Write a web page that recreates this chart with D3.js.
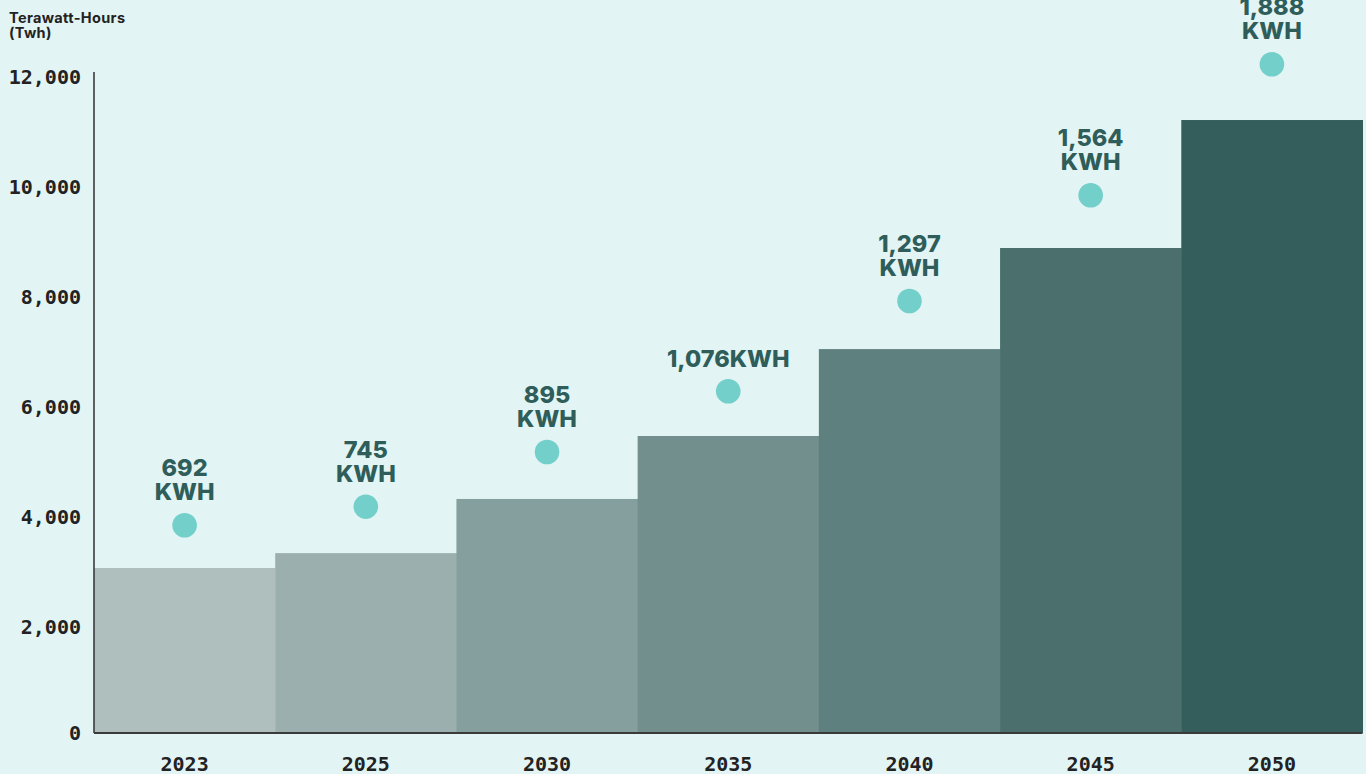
<!DOCTYPE html>
<html>
<head>
<meta charset="utf-8">
<script src="https://cdn.jsdelivr.net/npm/d3@7"></script>
<style>
  html, body { margin: 0; padding: 0; background: #e2f4f4; }
  svg { display: block; }
</style>
</head>
<body>
<svg id="chart" width="1366" height="774"></svg>
<script>
// ---- data ----
const years = ["2023", "2025", "2030", "2035", "2040", "2045", "2050"];
const twh = [3000, 3270, 4255, 5400, 6980, 8818, 11145];
const dotValues = [3776, 4115, 5109, 6213, 7855, 9776, 12158];
const perCapita = ["692", "745", "895", "1,076", "1,297", "1,564", "1,888"];
const singleLine = [false, false, false, true, false, false, false];
const yTicks = [0, 2000, 4000, 6000, 8000, 10000, 12000];
const barColors = ["#afbfbe", "#9aafae", "#849f9e", "#728f8d", "#5e807e", "#4a6f6d", "#345e5c"];
const yTitle = ["Terawatt-Hours", "(Twh)"];

(function () {
// ---- layout ----
const svg = d3.select("#chart");
const mLeft = 94, mRight = 1362.5, mBottom = 733, mTop = 73;

const x = d3.scaleBand().domain(years).range([mLeft, mRight]).padding(0);
const y = d3.scaleLinear().domain([0, 12000]).range([mBottom, mTop]);

svg.append("rect").attr("width", 1366).attr("height", 774).attr("fill", "#e2f4f4");

// bars
svg.append("g").selectAll("rect")
  .data(years)
  .join("rect")
  .attr("x", d => x(d))
  .attr("width", x.bandwidth() + 0.5)
  .attr("y", (d, i) => y(twh[i]))
  .attr("height", (d, i) => y(0) - y(twh[i]))
  .attr("fill", (d, i) => barColors[i]);

// axes
const yAxis = d3.axisLeft(y).tickValues(yTicks).tickSize(0).tickPadding(13)
  .tickFormat(d3.format(","));
const gy = svg.append("g").attr("transform", `translate(${mLeft},0)`).call(yAxis);
gy.select(".domain").attr("stroke", "#3a3a3a").attr("stroke-width", 1.6)
  .attr("d", `M0,${mTop - 1}V${mBottom}`);
gy.selectAll("text")
  .attr("font-family", "'DejaVu Sans Mono', monospace")
  .attr("font-weight", "bold")
  .attr("font-size", 20)
  .attr("fill", "#222")
  .attr("dy", d => d === 0 ? "0.3em" : "0.52em");

const xAxis = d3.axisBottom(x).tickSize(0).tickPadding(24);
const gx = svg.append("g").attr("transform", `translate(0,${mBottom})`).call(xAxis);
gx.select(".domain").attr("stroke", "#3a3a3a").attr("stroke-width", 1.8)
  .attr("d", `M${mLeft},0H${mRight}`);
gx.selectAll("text")
  .attr("font-family", "'DejaVu Sans Mono', monospace")
  .attr("font-weight", "bold")
  .attr("font-size", 20)
  .attr("fill", "#222")
  .attr("dy", "0.71em");

// dots
svg.append("g").selectAll("circle")
  .data(years)
  .join("circle")
  .attr("cx", d => x(d) + x.bandwidth() / 2)
  .attr("cy", (d, i) => y(dotValues[i]))
  .attr("r", 12.3)
  .attr("fill", "#72cfca");

// labels
const lab = svg.append("g")
  .attr("font-family", "Inter, 'Noto Sans', sans-serif")
  .attr("font-weight", 800)
  .attr("font-size", 23.5)
  .attr("fill", "#2f5e5a")
  .attr("text-anchor", "middle");

years.forEach((d, i) => {
  const cx = x(d) + x.bandwidth() / 2;
  const cy = y(dotValues[i]);
  if (singleLine[i]) {
    lab.append("text").attr("x", cx).attr("y", cy - 24).text(perCapita[i] + "KWH");
  } else {
    lab.append("text").attr("x", cx).attr("y", cy - 49).text(perCapita[i]);
    lab.append("text").attr("x", cx).attr("y", cy - 25).text("KWH");
  }
});

// y title
const t = svg.append("text")
  .attr("x", 9).attr("y", 23)
  .attr("font-family", "Inter, 'Noto Sans', sans-serif")
  .attr("font-weight", 700)
  .attr("font-size", 14.5)
  .attr("letter-spacing", 0.35)
  .attr("fill", "#222");
yTitle.forEach((s, i) => {
  t.append("tspan").attr("x", 9).attr("dy", i === 0 ? 0 : 15).text(s);
});
})();
</script>
</body>
</html>
